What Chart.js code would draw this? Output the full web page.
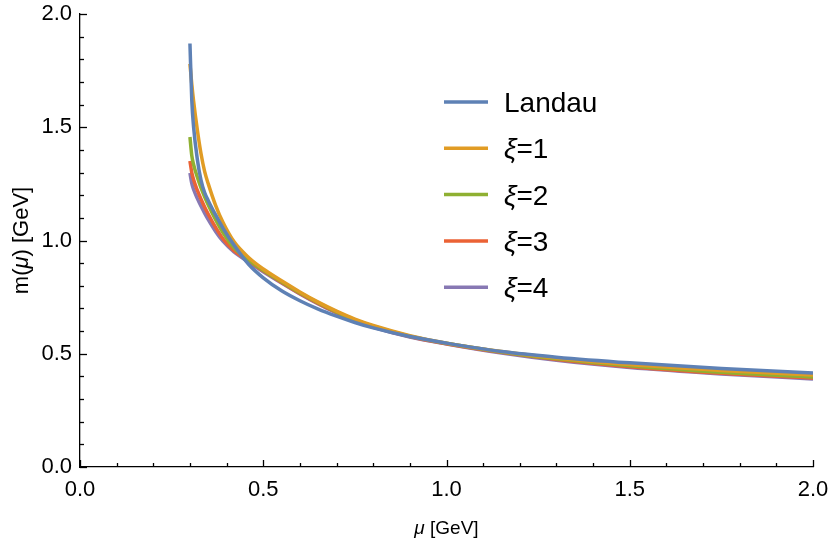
<!DOCTYPE html>
<html>
<head>
<meta charset="utf-8">
<script src="https://cdn.jsdelivr.net/npm/chart.js@4.4.0/dist/chart.umd.min.js"></script>
<style>
    html, body { margin: 0; padding: 0; background: #ffffff; }
    #wrap { width: 830px; height: 548px; }
</style>
</head>
<body>
<div id="wrap"><canvas id="myChart"></canvas></div>
<script>
// mu [GeV] sample points shared by all curves
var muValues = [0.300, 0.305, 0.310, 0.320, 0.330, 0.340, 0.350, 0.370, 0.390, 0.420,
                0.460, 0.500, 0.550, 0.600, 0.650, 0.700, 0.750, 0.800, 0.900, 1.000,
                1.150, 1.300, 1.500, 1.750, 2.000];

// m(mu) [GeV]
var landau = [1.870, 1.620, 1.500, 1.360, 1.268, 1.212, 1.176, 1.113, 1.055, 0.980,
              0.895, 0.835, 0.778, 0.734, 0.697, 0.666, 0.638, 0.614, 0.576, 0.547,
              0.510, 0.485, 0.460, 0.435, 0.415];
var xi1 = [1.780, 1.690, 1.615, 1.490, 1.385, 1.305, 1.250, 1.155, 1.080, 0.995,
           0.925, 0.874, 0.822, 0.773, 0.728, 0.688, 0.653, 0.625, 0.580, 0.547,
           0.510, 0.481, 0.452, 0.426, 0.406];
var xi2 = [1.457, 1.375, 1.335, 1.280, 1.233, 1.193, 1.157, 1.092, 1.035, 0.968,
           0.915, 0.869, 0.818, 0.769, 0.725, 0.685, 0.650, 0.622, 0.578, 0.546,
           0.508, 0.478, 0.447, 0.418, 0.397];
var xi3 = [1.351, 1.300, 1.268, 1.222, 1.183, 1.148, 1.116, 1.058, 1.008, 0.955,
           0.910, 0.866, 0.815, 0.766, 0.722, 0.682, 0.647, 0.619, 0.576, 0.544,
           0.506, 0.475, 0.443, 0.414, 0.393];
var xi4 = [1.298, 1.252, 1.225, 1.186, 1.152, 1.121, 1.092, 1.040, 0.997, 0.950,
           0.905, 0.862, 0.812, 0.764, 0.720, 0.680, 0.645, 0.617, 0.574, 0.543,
           0.503, 0.471, 0.439, 0.411, 0.389];

var seriesLabels = ['Landau', 'ξ=1', 'ξ=2', 'ξ=3', 'ξ=4'];
var seriesValues = [landau, xi1, xi2, xi3, xi4];
var seriesColors = ['#5e81b5', '#e19c24', '#8fb032', '#eb6235', '#8778b3'];

var axisMin = 0;
var axisMax = 2;
var majorStep = 0.5;
var minorStep = 0.1;

var fontName = '"Liberation Sans", Arial, sans-serif';

function makeDatasets() {
    var sets = [];
    for (var s = 0; s < seriesValues.length; s++) {
        var pts = [];
        for (var i = 0; i < muValues.length; i++) {
            pts.push({ x: muValues[i], y: seriesValues[s][i] });
        }
        sets.push({
            label: seriesLabels[s],
            data: pts,
            showLine: true,
            borderColor: seriesColors[s],
            backgroundColor: seriesColors[s],
            borderWidth: 3.5,
            pointRadius: 0,
            cubicInterpolationMode: 'monotone',
            fill: false
        });
    }
    return sets;
}

// ticks pointing inside the frame, like the original
var innerTicks = {
    id: 'innerTicks',
    afterDraw: function(chart) {
        var ctx = chart.ctx;
        var xs = chart.scales.x, ys = chart.scales.y;
        var area = chart.chartArea;
        var n = Math.round((axisMax - axisMin) / minorStep);
        ctx.save();
        ctx.strokeStyle = '#000';
        ctx.lineWidth = 1.3;
        for (var i = 0; i <= n; i++) {
            var v = axisMin + i * minorStep;
            var len = (i % 5 === 0) ? 7 : 4;
            var px = Math.round(xs.getPixelForValue(v)) + 0.5;
            ctx.beginPath();
            ctx.moveTo(px, area.bottom);
            ctx.lineTo(px, area.bottom - len);
            ctx.stroke();
            var py = Math.round(ys.getPixelForValue(v)) + 0.5;
            ctx.beginPath();
            ctx.moveTo(area.left, py);
            ctx.lineTo(area.left + len, py);
            ctx.stroke();
        }
        ctx.restore();
    }
};

// draws a run of [text, italic] pieces starting at x
function drawPieces(ctx, pieces, x, y, size) {
    for (var i = 0; i < pieces.length; i++) {
        ctx.font = (pieces[i][1] ? 'italic ' : '') + size + 'px ' + fontName;
        ctx.fillText(pieces[i][0], x, y);
        x += ctx.measureText(pieces[i][0]).width;
    }
}
function piecesWidth(ctx, pieces, size) {
    var w = 0;
    for (var i = 0; i < pieces.length; i++) {
        ctx.font = (pieces[i][1] ? 'italic ' : '') + size + 'px ' + fontName;
        w += ctx.measureText(pieces[i][0]).width;
    }
    return w;
}

var titlesAndLegend = {
    id: 'titlesAndLegend',
    afterDraw: function(chart) {
        var ctx = chart.ctx;
        var area = chart.chartArea;
        ctx.save();
        ctx.fillStyle = '#000';
        ctx.textBaseline = 'alphabetic';

        // x axis title
        var xt = [['μ', true], [' [GeV]', false]];
        var w = piecesWidth(ctx, xt, 19);
        drawPieces(ctx, xt, (area.left + area.right) / 2 - w / 2, 534, 19);

        // y axis title
        var yt = [['m(', false], ['μ', true], [') [GeV]', false]];
        ctx.save();
        ctx.translate(28, (area.top + area.bottom) / 2);
        ctx.rotate(-Math.PI / 2);
        w = piecesWidth(ctx, yt, 22);
        drawPieces(ctx, yt, -w / 2, 0, 22);
        ctx.restore();

        // legend
        var lx = 444, ly = 102, gap = 46.3;
        for (var s = 0; s < chart.data.datasets.length; s++) {
            var ds = chart.data.datasets[s];
            var yy = ly + s * gap;
            ctx.strokeStyle = ds.borderColor;
            ctx.lineWidth = 3.5;
            ctx.beginPath();
            ctx.moveTo(lx, yy);
            ctx.lineTo(lx + 44, yy);
            ctx.stroke();
            var parts;
            if (ds.label.charAt(0) === 'ξ') {
                parts = [['ξ', true], [ds.label.slice(1), false]];
            } else {
                parts = [[ds.label, false]];
            }
            drawPieces(ctx, parts, lx + 60, yy + 10, 28);
        }
        ctx.restore();
    }
};

document.addEventListener('DOMContentLoaded', function() {
    var ctx = document.getElementById('myChart').getContext('2d');
    window.myChart = new Chart(ctx, {
        type: 'scatter',
        data: { datasets: makeDatasets() },
        options: {
            responsive: true,
            maintainAspectRatio: false,
            animation: false,
            devicePixelRatio: 1,
            layout: { padding: { left: 0, right: 17, top: 14, bottom: 0 } },
            plugins: {
                legend: { display: false },
                tooltip: { enabled: false }
            },
            scales: {
                x: {
                    type: 'linear',
                    min: axisMin,
                    max: axisMax,
                    grid: { display: false, drawTicks: false },
                    border: { display: true, color: '#000', width: 1.3 },
                    ticks: {
                        stepSize: majorStep,
                        color: '#000',
                        padding: 10,
                        font: { family: fontName, size: 22 },
                        maxRotation: 0,
                        callback: function(v) { return Number(v).toFixed(1); }
                    },
                    afterFit: function(scale) {
                        scale.height = 81;
                        scale.paddingLeft = 0;
                        scale.paddingRight = 0;
                    }
                },
                y: {
                    type: 'linear',
                    min: axisMin,
                    max: axisMax,
                    grid: { display: false, drawTicks: false },
                    border: { display: true, color: '#000', width: 1.3 },
                    ticks: {
                        stepSize: majorStep,
                        color: '#000',
                        padding: 8,
                        font: { family: fontName, size: 22 },
                        callback: function(v) { return Number(v).toFixed(1); }
                    },
                    afterFit: function(scale) {
                        scale.width = 80;
                        scale.paddingTop = 0;
                        scale.paddingBottom = 0;
                    }
                }
            }
        },
        plugins: [innerTicks, titlesAndLegend]
    });
});
</script>
</body>
</html>
